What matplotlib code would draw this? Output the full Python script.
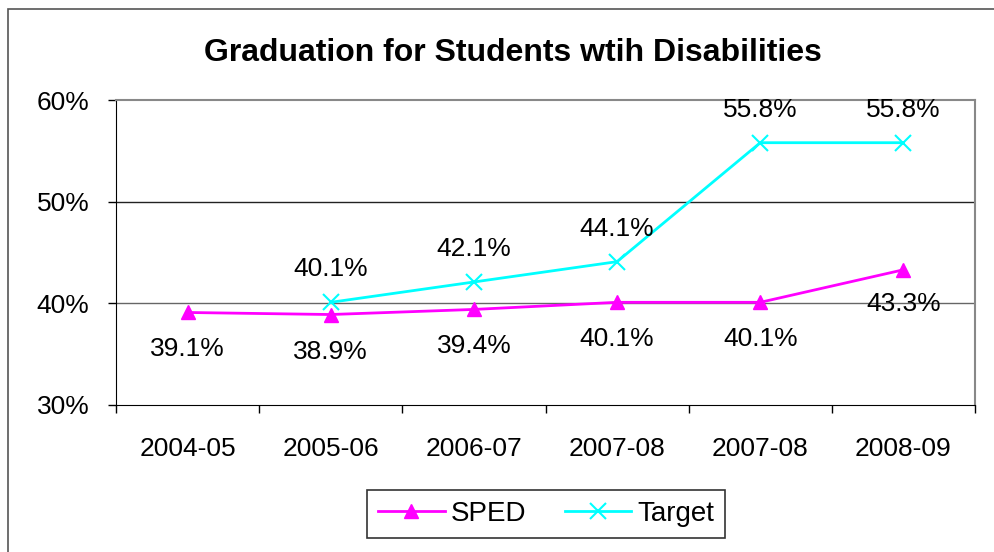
import matplotlib.pyplot as plt
from matplotlib.patches import Rectangle
from matplotlib.ticker import FixedLocator, FuncFormatter

plt.rcParams['font.family'] = ['Liberation Sans', 'DejaVu Sans']

years = ['2004-05', '2005-06', '2006-07', '2007-08', '2007-08', '2008-09']
sped = [39.1, 38.9, 39.4, 40.1, 40.1, 43.3]
target_x = [1, 2, 3, 4, 5]
target = [40.1, 42.1, 44.1, 55.8, 55.8]

fig = plt.figure(figsize=(9.94, 5.52), dpi=100)
ax = fig.add_axes([116 / 994, 1 - 405 / 552, (975 - 116) / 994, (405 - 100) / 552])

xs = list(range(len(years)))
ax.plot(xs, sped, color='#ff00ff', lw=2, marker='^', ms=10, label='SPED')
ax.plot(target_x, target, color='#00ffff', lw=2, marker='x', ms=11, mew=1.5, label='Target')

# data labels (offsets in pixels)
for x, v in zip(xs, sped):
    off = -34 if x == 5 else -37
    ax.annotate(f'{v:.1f}%', (x, v), xytext=(0, off), textcoords='offset pixels',
                ha='center', va='center', fontsize=19, annotation_clip=False)
for x, v in zip(target_x, target):
    ax.annotate(f'{v:.1f}%', (x, v), xytext=(0, 33), textcoords='offset pixels',
                ha='center', va='center', fontsize=19, annotation_clip=False)

ax.set_xlim(-0.5, 5.5)
ax.set_ylim(30, 60)
ax.set_yticks([30, 40, 50, 60])
ax.yaxis.set_major_formatter(FuncFormatter(lambda v, p: f'{v:.0f}%'))
ax.set_xticks(xs)
ax.set_xticklabels(years)
ax.xaxis.set_minor_locator(FixedLocator([i - 0.5 for i in range(len(years) + 1)]))
ax.tick_params(axis='x', which='major', length=0, pad=23, labelsize=19)
ax.tick_params(axis='x', which='minor', length=6, width=1)
ax.tick_params(axis='y', length=6, width=1, pad=13, labelsize=19)
for y in [40, 50]:
    ax.axhline(y, color='#222222' if y == 50 else '#666666', lw=1, zorder=0)

ax.spines['left'].set_color('black')
ax.spines['bottom'].set_color('black')
ax.spines['top'].set_color('#888888')
ax.spines['right'].set_color('#888888')
ax.spines['top'].set_linewidth(1.5)
ax.spines['right'].set_linewidth(1.5)

fig.text(513 / 994, 1 - 53 / 552, 'Graduation for Students wtih Disabilities',
         ha='center', va='center', fontsize=23, fontweight='bold')

leg = fig.legend(loc='center', bbox_to_anchor=(546 / 994, 1 - 514 / 552), ncol=2,
                 fontsize=20, frameon=True, fancybox=False, edgecolor='black',
                 handlelength=2.4, columnspacing=1.4, handletextpad=0.2, borderpad=0.4)
leg.get_frame().set_linewidth(1.2)

fig.patches.append(Rectangle((8 / 994, -0.1), 1.2, 1 - 9 / 552 + 0.1, transform=fig.transFigure,
                             fill=False, edgecolor='#555555', lw=1.2))

fig.savefig('out.png', dpi=100)
